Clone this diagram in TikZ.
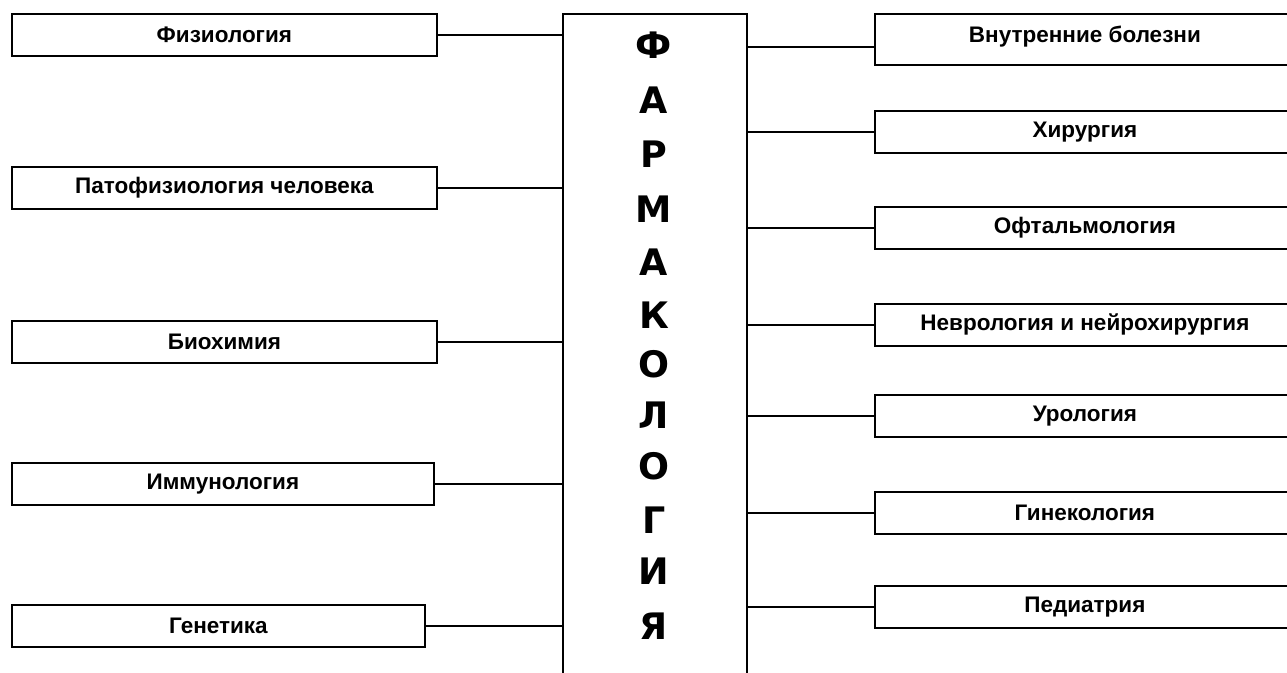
\documentclass[tikz,border=0pt]{standalone}
\usepackage{fontspec}
\setmainfont{Liberation Sans}
\newfontfamily\heavyfont{DejaVu Sans}
\begin{document}
\begin{tikzpicture}[x=1pt,y=-1pt,
  lbox/.style={draw=black,line width=1.8pt,rectangle,anchor=north west,inner sep=0pt,
    font=\bfseries\fontsize{22.5}{26}\selectfont},
  conn/.style={draw=black,line width=1.6pt},
  big/.style={anchor=base,inner sep=0pt,font=\heavyfont\bfseries\fontsize{36.5}{40}\selectfont}]
\useasboundingbox[fill=white] (0,0) rectangle (1287,672);
% centre box (bottom edge lies below the page)
\node[draw=black,line width=1.8pt,rectangle,anchor=north west,inner sep=0pt,
  minimum width=184pt,minimum height=690pt] (ph) at (562,13) {};
% letters
\foreach \t/\b [count=\i] in {Ф/58,А/113,Р/167,М/222,А/275,К/328,О/377,Л/428,О/479,Г/533,И/584,Я/639}
  \node[big] (l\i) at (654,\b) {\t};
% left boxes
\node[lbox,minimum width=425pt,minimum height=42pt] (a1) at (11,13) {Физиология};
\node[lbox,minimum width=425pt,minimum height=42pt] (a2) at (11,166) {Патофизиология человека};
\node[lbox,minimum width=425pt,minimum height=42pt] (a3) at (11,320) {Биохимия};
\node[lbox,minimum width=422pt,minimum height=42pt] (a4) at (11,462) {Иммунология};
\node[lbox,minimum width=413pt,minimum height=42pt] (a5) at (11,604) {Генетика};
% right boxes
\node[lbox,minimum width=420pt,minimum height=51pt,text depth=11pt] (b1) at (874,13) {Внутренние болезни};
\node[lbox,minimum width=420pt,minimum height=42pt] (b2) at (874,110) {Хирургия};
\node[lbox,minimum width=420pt,minimum height=42pt] (b3) at (874,206) {Офтальмология};
\node[lbox,minimum width=420pt,minimum height=42pt] (b4) at (874,303) {Неврология и нейрохирургия};
\node[lbox,minimum width=420pt,minimum height=42pt] (b5) at (874,394) {Урология};
\node[lbox,minimum width=420pt,minimum height=42pt] (b6) at (874,491) {Гинекология};
\node[lbox,minimum width=420pt,minimum height=42pt] (b7) at (874,585) {Педиатрия};
% connectors left
\foreach \n in {a1,a2,a3,a4,a5}
  \draw[conn] (\n.east) -- (\n.east -| ph.west);
% connectors right
\draw[conn] ([yshift=-7.5pt]b1.west) -- ([yshift=-7.5pt]b1.west -| ph.east);
\foreach \n in {b2,b3,b4,b5,b6,b7}
  \draw[conn] (\n.west) -- (\n.west -| ph.east);
\end{tikzpicture}
\end{document}
